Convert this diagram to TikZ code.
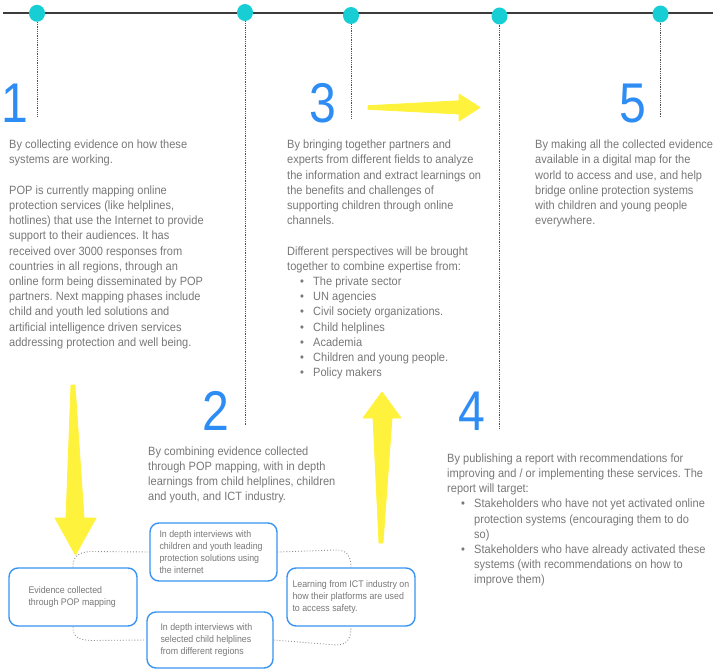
\documentclass[tikz,border=0pt]{standalone}
\usepackage{fontspec}
\setmainfont{Liberation Sans}[FakeStretch=0.92]
\newfontfamily\digitfont{Liberation Sans}[FakeStretch=0.86]
\usetikzlibrary{shapes.geometric}
\frenchspacing

\definecolor{lineink}{HTML}{3C3C3C}
\definecolor{dotteal}{HTML}{16CED3}
\definecolor{numblue}{HTML}{2E8DF4}
\definecolor{bodygray}{HTML}{787878}
\definecolor{boxblue}{HTML}{3A94F4}
\definecolor{arrowyellow}{HTML}{FFF23D}
\definecolor{dropgray}{HTML}{505050}
\definecolor{loopgray}{HTML}{8E8E8E}

\tikzset{
  milestone/.style={ellipse, fill=dotteal, minimum width=16pt, minimum height=17pt, inner sep=0pt},
  drop/.style={densely dotted, draw=dropgray, line width=0.8pt},
  stepnum/.style={anchor=base, inner sep=0pt, text=numblue, font=\digitfont\fontsize{56}{56}\selectfont},
  body/.style={anchor=north west, inner sep=0pt, align=left, text=bodygray, font=\fontsize{12}{15.2}\selectfont},
  card/.style={draw=boxblue, line width=1.4pt, rounded corners=9pt, inner sep=0pt},
  cardtext/.style={anchor=west, inner sep=0pt, align=left, text=bodygray, font=\fontsize{9.6}{12}\selectfont},
  loop/.style={dotted, draw=loopgray, line width=0.9pt},
  bigarrow/.style={fill=arrowyellow, draw=arrowyellow, line width=0.8pt, line join=round},
}

% strut fixing the height of the first line of a text block
\newcommand\firstline{\rule{0pt}{10pt}}
% bullet with a given indent
\newcommand\blt[1]{\hspace*{#1}\makebox[13pt][l]{\textbullet}}

\begin{document}
\begin{tikzpicture}[x=1pt,y=-1pt]
  \fill[white] (0,0) rectangle (713,669);
  \useasboundingbox (0,0) rectangle (713,669);

  % timeline
  \coordinate (tlA) at (3,13);
  \coordinate (tlB) at (713,13);
  \draw[lineink, line width=1.5pt] (tlA) -- (tlB);

  \node[milestone] (d1) at (37,13.3) {};
  \node[milestone] (d2) at (245,12.5) {};
  \node[milestone] (d3) at (351,15.5) {};
  \node[milestone] (d4) at (499.5,16) {};
  \node[milestone] (d5) at (660.5,14) {};

  \coordinate (e1) at (37,117);
  \coordinate (e2) at (245,425);
  \coordinate (e3) at (351,118);
  \coordinate (e4) at (499.5,428);
  \coordinate (e5) at (660.5,117);

  \draw[drop] (d1) -- (e1);
  \draw[drop] (d2) -- (e2);
  \draw[drop] (d3) -- (e3);
  \draw[drop] (d4) -- (e4);
  \draw[drop] (d5) -- (e5);

  % step numbers
  \node[stepnum] (n1) at (14.8,123) {1};
  \node[stepnum] (n2) at (215.5,430) {2};
  \node[stepnum] (n3) at (323,123) {3};
  \node[stepnum] (n4) at (472,430) {4};
  \node[stepnum] (n5) at (633,123) {5};

  % step descriptions
  \node[body] (t1) at (9,138.5) {\firstline By collecting evidence on how these\\
    systems are working.\\[15.2pt]
    POP is currently mapping online\\
    protection services (like helplines,\\
    hotlines) that use the Internet to provide\\
    support to their audiences. It has\\
    received over 3000 responses from\\
    countries in all regions, through an\\
    online form being disseminated by POP\\
    partners. Next mapping phases include\\
    child and youth led solutions and\\
    artificial intelligence driven services\\
    addressing protection and well being.};

  \node[body] (t3) at (287,138.5) {\firstline By bringing together partners and\\
    experts from different fields to analyze\\
    the information and extract learnings on\\
    the benefits and challenges of\\
    supporting children through online\\
    channels.\\[15.2pt]
    Different perspectives will be brought\\
    together to combine expertise from:\\
    \blt{13pt}The private sector\\
    \blt{13pt}UN agencies\\
    \blt{13pt}Civil society organizations.\\
    \blt{13pt}Child helplines\\
    \blt{13pt}Academia\\
    \blt{13pt}Children and young people.\\
    \blt{13pt}Policy makers};

  \node[body] (t5) at (535,138.5) {\firstline By making all the collected evidence\\
    available in a digital map for the\\
    world to access and use, and help\\
    bridge online protection systems\\
    with children and young people\\
    everywhere.};

  \node[body] (t2) at (148,445) {\firstline By combining evidence collected\\
    through POP mapping, with in depth\\
    learnings from child helplines, children\\
    and youth, and ICT industry.};

  \node[body] (t4) at (447,452) {\firstline By publishing a report with recommendations for\\
    improving and / or implementing these services. The\\
    report will target:\\
    \blt{14pt}Stakeholders who have not yet activated online\\
    \hspace*{27pt}protection systems (encouraging them to do\\
    \hspace*{27pt}so)\\
    \blt{14pt}Stakeholders who have already activated these\\
    \hspace*{27pt}systems (with recommendations on how to\\
    \hspace*{27pt}improve them)};

  % yellow arrows
  \filldraw[bigarrow] (368,105.7) -- (459,100.8) -- (459,94) -- (480,107.5)
    -- (459,121) -- (459,114) -- (368,109.3) -- cycle;
  \filldraw[bigarrow] (71,385) -- (75,385) -- (84,518) -- (96,518) -- (75.5,555)
    -- (55,518) -- (66,518) -- cycle;
  \filldraw[bigarrow] (382,392) -- (401,418) -- (392,418) -- (383,543) -- (379,543)
    -- (373,418) -- (363,418) -- cycle;

  % evidence sources
  \node[card, minimum width=128pt, minimum height=58pt] (bA) at (73,597) {};
  \node[card, minimum width=127pt, minimum height=58pt] (bB) at (213.5,552) {};
  \node[card, minimum width=128pt, minimum height=58pt] (bC) at (351,597) {};
  \node[card, minimum width=126pt, minimum height=56pt] (bD) at (210,640) {};

  \node[cardtext] (bAt) at ([xshift=20pt]bA.west) {Evidence collected\\ through POP mapping};
  \node[cardtext] (bBt) at ([xshift=10pt]bB.west) {In depth interviews with\\ children and youth leading\\ protection solutions using\\ the internet};
  \node[cardtext] (bCt) at ([xshift=6pt]bC.west) {Learning from ICT industry on\\ how their platforms are used\\ to access safety.};
  \node[cardtext] (bDt) at ([xshift=14pt]bD.west) {In depth interviews with\\ selected child helplines\\ from different regions};

  % dotted loop joining the sources
  \draw[loop] (bA.north) .. controls (73,557) and (77,552) .. (92,551.5) -- (bB.west);
  \draw[loop] (bB.east) -- (336,550) .. controls (347,550) and (351,556) .. (bC.north);
  \draw[loop] (bA.south) .. controls (73,637) and (78,640) .. (92,640.5) -- (bD.west);
  \draw[loop] (bD.east) -- (336,645) .. controls (347,645) and (351,639) .. (bC.south);
\end{tikzpicture}
\end{document}
